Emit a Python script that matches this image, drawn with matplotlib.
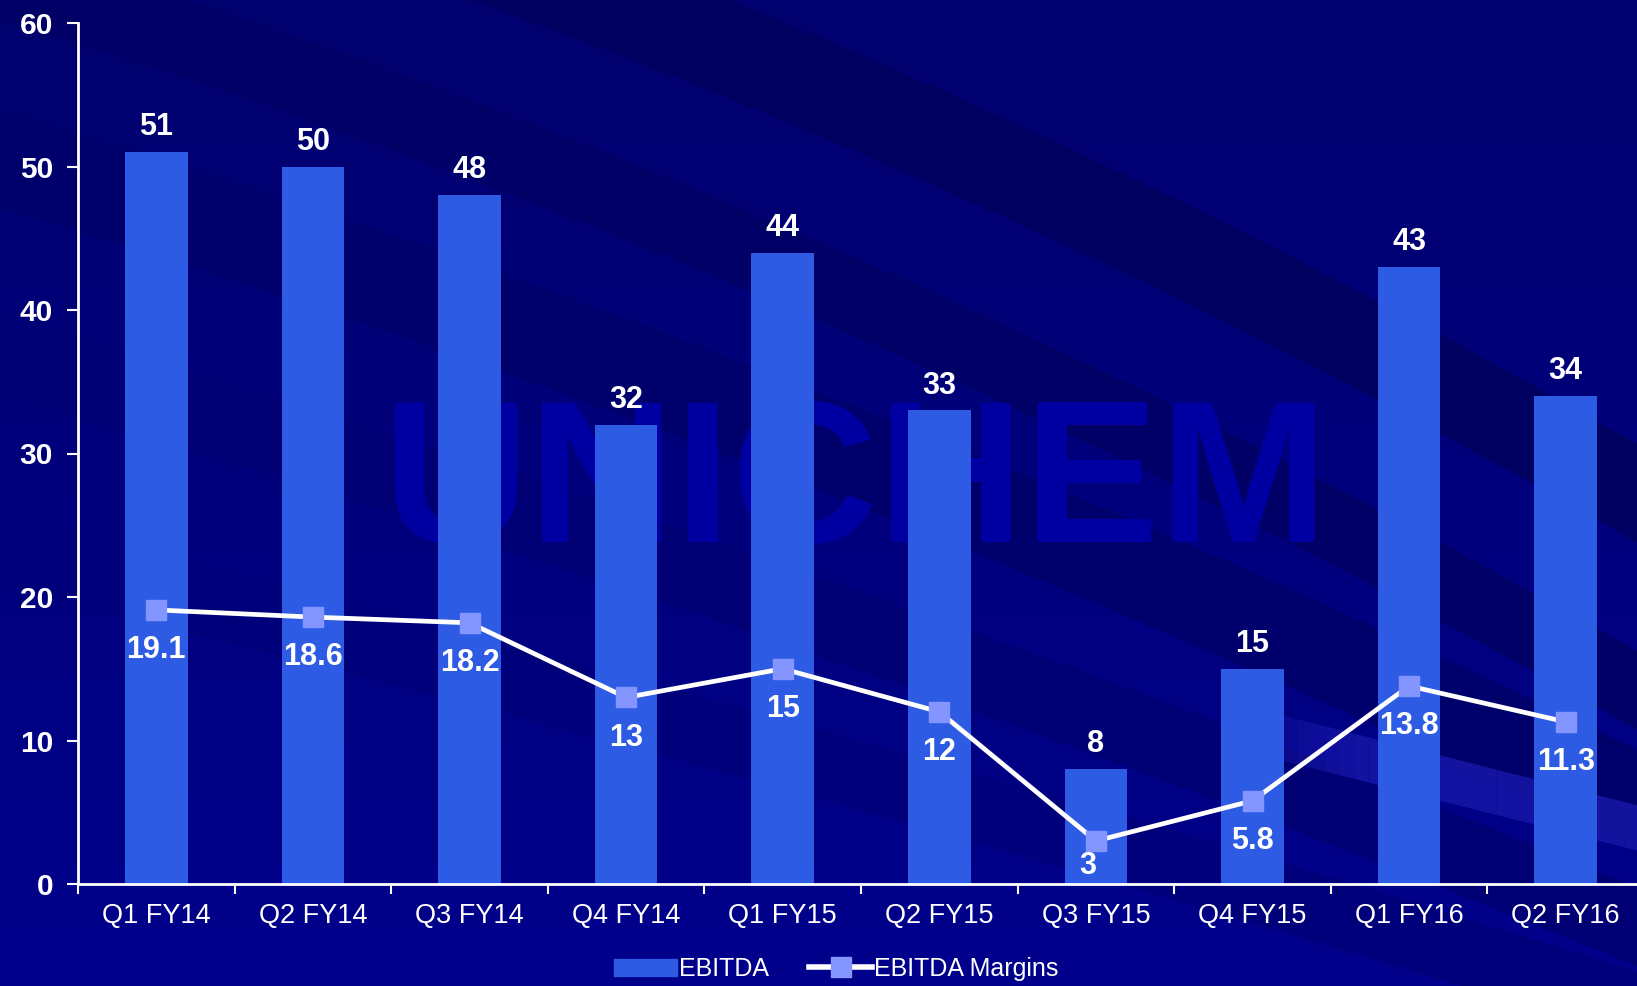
import numpy as np
import matplotlib
matplotlib.use("Agg")
from matplotlib import pyplot as plt
from matplotlib.patches import Patch
from matplotlib.lines import Line2D

plt.rcParams['font.family'] = ['Liberation Sans', 'DejaVu Sans']

quarters = ['Q1 FY14', 'Q2 FY14', 'Q3 FY14', 'Q4 FY14', 'Q1 FY15',
            'Q2 FY15', 'Q3 FY15', 'Q4 FY15', 'Q1 FY16', 'Q2 FY16']
ebitda = [51, 50, 48, 32, 44, 33, 8, 15, 43, 34]
margins = [19.1, 18.6, 18.2, 13, 15, 12, 3, 5.8, 13.8, 11.3]
margin_labels = ['19.1', '18.6', '18.2', '13', '15', '12', '3', '5.8', '13.8', '11.3']

bar_col = '#2d5be3'
mark_col = '#8595ff'

fig = plt.figure(figsize=(16.37, 9.86), dpi=100)

# background: navy gradient with darker swooshes
bg = fig.add_axes([0, 0, 1, 1], zorder=-10)
bg.set_xlim(0, 1)
bg.set_ylim(0, 1)
bg.axis('off')
grad = np.linspace(0, 1, 200)[:, None] * np.ones((1, 2))
bg.imshow(grad, extent=[0, 1, 0, 1], origin='lower', aspect='auto',
          cmap=matplotlib.colors.LinearSegmentedColormap.from_list(
              'bgc', ['#00008c', '#00007c', '#00006e']))
xs = np.linspace(0, 1, 300)
for y0, slope, bend, w, c in [(1.20, 0.45, 0.25, 0.05, '#000060'),
                              (1.02, 0.50, 0.22, 0.04, '#000066'),
                              (0.84, 0.50, 0.15, 0.05, '#00006c'),
                              (0.64, 0.48, 0.10, 0.04, '#000074'),
                              (0.44, 0.40, 0.06, 0.035, '#00007a')]:
    mid = y0 - slope * xs - bend * xs ** 2
    bg.fill_between(xs, mid - w, mid + w, color=c, lw=0)
# faint lighter streak at lower right, fading in from the left
for i in range(30):
    a0 = 0.74 + i * 0.0087
    lx = np.linspace(a0, a0 + 0.0087, 5)
    lmid = 0.275 - 0.42 * (lx - 0.74)
    bg.fill_between(lx, lmid - 0.028, lmid + 0.018, color='#1818aa',
                    alpha=min(0.8, i / 12), lw=0)

ax = fig.add_axes([78 / 1637, 102 / 986, 1566 / 1637, 861 / 986])
ax.set_facecolor('none')
x = np.arange(len(quarters))

# watermark behind the bars
ax.text(4.47, 23.8, 'UNICHEM', fontsize=146, fontweight='bold', color='#0000a2',
        ha='center', va='baseline', zorder=0)

ax.bar(x, ebitda, width=0.4, color=bar_col, zorder=2)
ax.plot(x, margins, '-', color='white', lw=3.4, zorder=3)
ax.plot(x, margins, 's', color=mark_col, ms=14, mec=mark_col, zorder=4)

for xi, v in zip(x, ebitda):
    ax.annotate(str(v), (xi, v), xytext=(0, 7), textcoords='offset points',
                ha='center', va='bottom', color='white', fontsize=22,
                fontweight='bold', zorder=5)
for xi, v, s in zip(x, margins, margin_labels):
    # low points sit close to the axis, so pull their label in
    off = (-6, -18) if v < 5 else (0, -29)
    ax.annotate(s, (xi, v), xytext=off, textcoords='offset points',
                ha='center', va='center', color='white', fontsize=22,
                fontweight='bold', zorder=5)

ax.set_xlim(-0.5, 9.5)
ax.set_ylim(0, 60)
ax.set_yticks(np.arange(0, 61, 10))
ax.set_xticks(x)
ax.set_xticklabels(quarters)
ax.set_xticks(np.arange(-0.5, 10, 1), minor=True)
ax.tick_params(axis='x', which='major', length=0, pad=14, labelsize=19.5,
               labelcolor='white')
ax.tick_params(axis='x', which='minor', length=7, width=1.5, color='white',
               direction='out')
ax.tick_params(axis='y', length=8, width=1.5, color='white', labelsize=21.5,
               labelcolor='white', pad=10)
for lab in ax.get_yticklabels():
    lab.set_fontweight('bold')
for sp in ['top', 'right']:
    ax.spines[sp].set_visible(False)
for sp in ['left', 'bottom']:
    ax.spines[sp].set_color('white')
    ax.spines[sp].set_linewidth(2)

handles = [Patch(color=bar_col),
           Line2D([0], [0], color='white', lw=4, marker='s', ms=14,
                  mfc=mark_col, mec=mark_col)]
fig.legend(handles, ['EBITDA', 'EBITDA Margins'], loc='lower center',
           bbox_to_anchor=(0.511, -0.018), ncol=2, frameon=False, fontsize=18,
           labelcolor='white', handlelength=2.5, handletextpad=0.1,
           columnspacing=1.6)

fig.savefig('out.png', dpi=100)
